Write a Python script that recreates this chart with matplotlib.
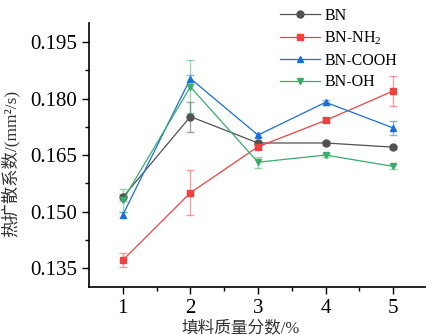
import numpy as np
import matplotlib
matplotlib.use('Agg')
import matplotlib.pyplot as plt

plt.rcParams['font.family'] = ['Liberation Serif', 'Noto Sans CJK SC']
plt.rcParams['mathtext.fontset'] = 'custom'
plt.rcParams['mathtext.rm'] = 'Liberation Serif'
plt.rcParams['mathtext.it'] = 'Liberation Serif:italic'

# data
x = [1, 2, 3, 4, 5]
labels = ['BN', 'BN-NH$_2$', 'BN-COOH', 'BN-OH']
bn = [0.1538, 0.1752, 0.1682, 0.1682, 0.1671]
bn_err = [0.0010, 0.0040, 0.0005, 0.0005, 0.0004]
nh2 = [0.1371, 0.1550, 0.1672, 0.1742, 0.1820]
nh2_err = [0.0018, 0.0060, 0.0006, 0.0005, 0.0040]
cooh = [0.1491, 0.1853, 0.1703, 0.1790, 0.1722]
cooh_err = [0.0007, 0.0010, 0.0006, 0.0006, 0.0018]
oh = [0.1530, 0.1831, 0.1631, 0.1650, 0.1620]
oh_err = [0.0030, 0.0070, 0.0015, 0.0004, 0.0007]

series = [bn, nh2, cooh, oh]
errs = [bn_err, nh2_err, cooh_err, oh_err]
colors = ['#515151', '#F14040', '#1A6FDF', '#37AD6B']
markers = ['o', 's', '^', 'v']

fig = plt.figure(figsize=(4.27, 3.35), dpi=100)
ax = fig.add_axes([0.2084, 0.1433, 0.7916, 0.7877])

handles = []
for y, e, c, m, lab in zip(series, errs, colors, markers, labels):
    ax.errorbar(x, y, yerr=e, fmt='none', ecolor=c, alpha=0.5,
                elinewidth=1, capsize=3, capthick=1, zorder=2)
    h, = ax.plot(x, y, color=c, marker=m, markersize=5, lw=0.9, label=lab, zorder=3)
    handles.append(h)

ax.set_xlim(0.5, 5.5)
ax.set_ylim(0.13, 0.20)
ax.set_xticks([1, 2, 3, 4, 5])
ax.set_xticks([1.5, 2.5, 3.5, 4.5], minor=True)
ax.set_yticks([0.135, 0.150, 0.165, 0.180, 0.195])
ax.set_yticklabels(['0.135', '0.150', '0.165', '0.180', '0.195'])
ax.set_yticks([0.1425, 0.1575, 0.1725, 0.1875], minor=True)
ax.tick_params(which='major', direction='out', length=5, width=1, labelsize=15)
ax.tick_params(which='minor', direction='out', length=3, width=1)
for s in ['top', 'right']:
    ax.spines[s].set_visible(False)
for s in ['left', 'bottom']:
    ax.spines[s].set_linewidth(1.2)

ax.set_xlabel('填料质量分数/%', fontsize=12, color='#333333')
ax.xaxis.set_label_coords(0.45, -0.125)
ax.set_ylabel('热扩散系数/(mm²/s)', fontsize=12.5, color='#333333')
ax.yaxis.set_label_coords(-0.205, 0.47)

fig.legend(handles=handles, loc='upper left', bbox_to_anchor=(0.64, 0.995),
           frameon=False, fontsize=11.5, handlelength=2.5, handletextpad=0.3,
           labelspacing=0.35, borderaxespad=0)

fig.savefig('out.png', dpi=100)
